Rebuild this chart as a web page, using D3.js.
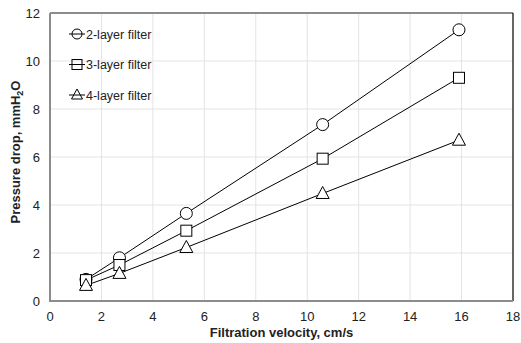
<!DOCTYPE html>
<html>
<head>
<meta charset="utf-8">
<script src="https://cdn.jsdelivr.net/npm/d3@7"></script>
<style>
  body { margin: 0; background: #fff; }
  svg { font-family: "Liberation Sans", Arial, sans-serif; }
</style>
</head>
<body>
<div id="chart"></div>
<script>
// data
var velocity = [1.4, 2.7, 5.3, 10.6, 15.9];
var layer2 = [0.9, 1.8, 3.65, 7.35, 11.3];
var layer3 = [0.87, 1.5, 2.93, 5.93, 9.3];
var layer4 = [0.65, 1.15, 2.23, 4.48, 6.7];
var seriesNames = ["2-layer filter", "3-layer filter", "4-layer filter"];
var seriesShapes = ["circle", "square", "triangle"];
var xTicks = [0, 2, 4, 6, 8, 10, 12, 14, 16, 18];
var yTicks = [0, 2, 4, 6, 8, 10, 12];

var width = 521, height = 343;
var margin = {top: 13, right: 8, bottom: 42, left: 50};

var svg = d3.select("#chart").append("svg")
    .attr("width", width)
    .attr("height", height);

var x = d3.scaleLinear().domain([0, 18]).range([margin.left, width - margin.right]);
var y = d3.scaleLinear().domain([0, 12]).range([height - margin.bottom, margin.top]);

// gridlines
svg.append("g").selectAll("line.vg")
    .data(xTicks.slice(1, -1))
    .enter().append("line")
    .attr("x1", function(d) { return x(d); })
    .attr("x2", function(d) { return x(d); })
    .attr("y1", y(0)).attr("y2", y(12))
    .attr("stroke", "#e4e4e4").attr("stroke-width", 1);

svg.append("g").selectAll("line.hg")
    .data(yTicks.slice(1, -1))
    .enter().append("line")
    .attr("x1", x(0)).attr("x2", x(18))
    .attr("y1", function(d) { return y(d); })
    .attr("y2", function(d) { return y(d); })
    .attr("stroke", "#e4e4e4").attr("stroke-width", 1);

// frame: grey left/bottom/top, black right
svg.append("line").attr("x1", x(0)).attr("x2", x(18)).attr("y1", y(12)).attr("y2", y(12))
    .attr("stroke", "#8c8c8c").attr("stroke-width", 2);
svg.append("line").attr("x1", x(18)).attr("x2", x(18)).attr("y1", y(12)).attr("y2", y(0))
    .attr("stroke", "#000").attr("stroke-width", 1.2);
svg.append("line").attr("x1", x(0)).attr("x2", x(0)).attr("y1", y(12)).attr("y2", y(0))
    .attr("stroke", "#8c8c8c").attr("stroke-width", 2);
svg.append("line").attr("x1", x(0) - 1).attr("x2", x(18)).attr("y1", y(0)).attr("y2", y(0))
    .attr("stroke", "#8c8c8c").attr("stroke-width", 2);

// tick labels
svg.append("g").selectAll("text")
    .data(xTicks)
    .enter().append("text")
    .attr("x", function(d) { return x(d); })
    .attr("y", y(0) + 20)
    .attr("text-anchor", "middle")
    .attr("font-size", 13)
    .attr("fill", "#222")
    .text(function(d) { return d; });

svg.append("g").selectAll("text")
    .data(yTicks)
    .enter().append("text")
    .attr("x", x(0) - 10)
    .attr("y", function(d) { return y(d) + 5; })
    .attr("text-anchor", "end")
    .attr("font-size", 13)
    .attr("fill", "#222")
    .text(function(d) { return d; });

// axis titles
svg.append("text")
    .attr("x", (x(0) + x(18)) / 2)
    .attr("y", height - 6)
    .attr("text-anchor", "middle")
    .attr("font-size", 13)
    .attr("font-weight", "bold")
    .attr("fill", "#222")
    .text("Filtration velocity, cm/s");

var yt = svg.append("text")
    .attr("transform", "translate(20," + ((y(0) + y(12)) / 2 - 5) + ") rotate(-90)")
    .attr("text-anchor", "middle")
    .attr("font-size", 13)
    .attr("font-weight", "bold")
    .attr("fill", "#222");
yt.append("tspan").text("Pressure drop, mmH");
yt.append("tspan").attr("font-size", 9).attr("dy", 3).text("2");
yt.append("tspan").attr("dy", -3).text("O");

// markers
function drawMarker(g, shape, cx, cy) {
    if (shape == "circle") {
        g.append("circle").attr("cx", cx).attr("cy", cy).attr("r", 6)
            .attr("fill", "#fff").attr("stroke", "#000").attr("stroke-width", 1);
    } else if (shape == "square") {
        g.append("rect").attr("x", cx - 5.5).attr("y", cy - 5.5).attr("width", 11).attr("height", 11)
            .attr("fill", "#fff").attr("stroke", "#000").attr("stroke-width", 1);
    } else {
        g.append("path")
            .attr("d", "M" + cx + "," + (cy - 7) + "L" + (cx + 6.5) + "," + (cy + 5) + "L" + (cx - 6.5) + "," + (cy + 5) + "Z")
            .attr("fill", "#fff").attr("stroke", "#000").attr("stroke-width", 1);
    }
}

var allSeries = [layer2, layer3, layer4];
var line = d3.line()
    .x(function(d) { return x(d[0]); })
    .y(function(d) { return y(d[1]); });

allSeries.forEach(function(vals, i) {
    var pts = velocity.map(function(v, j) { return [v, vals[j]]; });
    svg.append("path")
        .datum(pts)
        .attr("d", line)
        .attr("fill", "none")
        .attr("stroke", "#000")
        .attr("stroke-width", 1);
});

allSeries.forEach(function(vals, i) {
    var g = svg.append("g");
    velocity.forEach(function(v, j) {
        drawMarker(g, seriesShapes[i], x(v), y(vals[j]));
    });
});

// legend
var legend = svg.append("g");
seriesNames.forEach(function(name, i) {
    var ly = 34 + i * 30.5;
    legend.append("line").attr("x1", 69).attr("x2", 85).attr("y1", ly).attr("y2", ly)
        .attr("stroke", "#000").attr("stroke-width", 1);
    var g = legend.append("g");
    if (seriesShapes[i] == "circle") {
        g.append("circle").attr("cx", 77).attr("cy", ly).attr("r", 5)
            .attr("fill", "none").attr("stroke", "#000");
    } else if (seriesShapes[i] == "square") {
        g.append("rect").attr("x", 72).attr("y", ly - 5).attr("width", 10).attr("height", 10)
            .attr("fill", "none").attr("stroke", "#000");
    } else {
        g.append("path").attr("d", "M77," + (ly - 6) + "L82.5," + (ly + 4) + "L71.5," + (ly + 4) + "Z")
            .attr("fill", "none").attr("stroke", "#000");
    }
    legend.append("text")
        .attr("x", 86)
        .attr("y", ly + 4.5)
        .attr("font-size", 12.5)
        .attr("fill", "#222")
        .text(name);
});
</script>
</body>
</html>
